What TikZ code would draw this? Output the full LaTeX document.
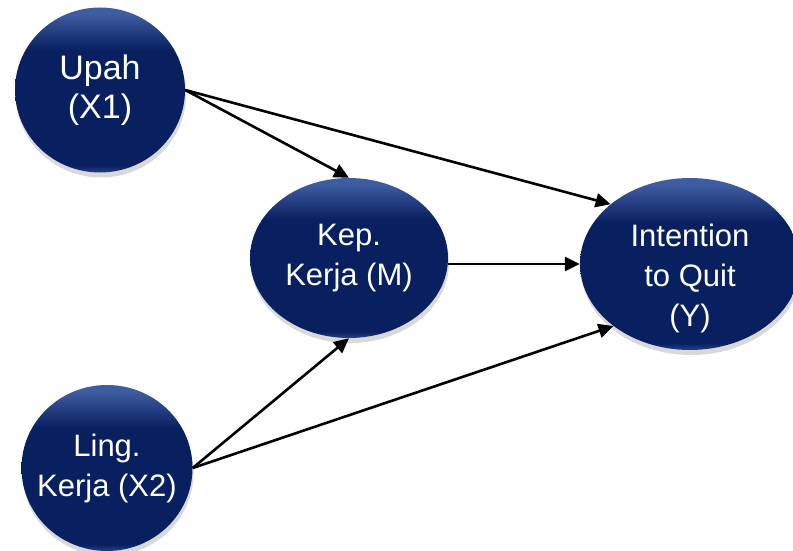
\documentclass[tikz,border=0pt]{standalone}
\usepackage{fontspec}
\setmainfont{Liberation Sans}
\usetikzlibrary{arrows.meta,shapes.geometric,shadows}

\definecolor{navy}{RGB}{8,32,96}
\definecolor{navyhi}{RGB}{62,92,160}
\definecolor{navyrim}{RGB}{38,66,132}
\pgfdeclareverticalshading{bubble}{100bp}{color(0bp)=(navyrim); color(25bp)=(navyrim); color(27bp)=(navy); color(62bp)=(navy); color(73bp)=(navyhi); color(100bp)=(navyhi)}

\begin{document}
\begin{tikzpicture}[x=1pt,y=-1pt,
  txt/.style={text=white, align=center, font=\fontsize{31}{40}\selectfont},
  var/.style={ellipse, shading=bubble, inner sep=-20pt, txt,
    drop shadow={shadow xshift=1pt, shadow yshift=-5pt, opacity=.3}},
  arr/.style={line width=2.6pt, -{Triangle[length=15pt,width=14pt]}}]
\useasboundingbox (0,0) rectangle (793,551);
\node[var, minimum width=170pt, minimum height=165pt, font=\fontsize{34}{39}\selectfont] (upah) at (100,90) {Upah\\(X1)};
\node[var, minimum width=198pt, minimum height=160pt] (kep) at (349,258) {Kep.\\Kerja (M)};
\node[var, minimum width=220pt, minimum height=172pt,
  label={[txt, yshift=-14pt]center:Intention\\to Quit\\(Y)}] (inty) at (690,264) {};
\node[var, minimum width=171pt, minimum height=166pt] (ling) at (107,468) {Ling.\\Kerja (X2)};
% paths between the variables
\foreach \s/\t in {upah.east/kep.north, upah.east/inty.143, kep.east |- inty/inty.west, ling.east/kep.south, ling.east/inty.219}
  \draw[arr] (\s) -- (\t);
\end{tikzpicture}
\end{document}
